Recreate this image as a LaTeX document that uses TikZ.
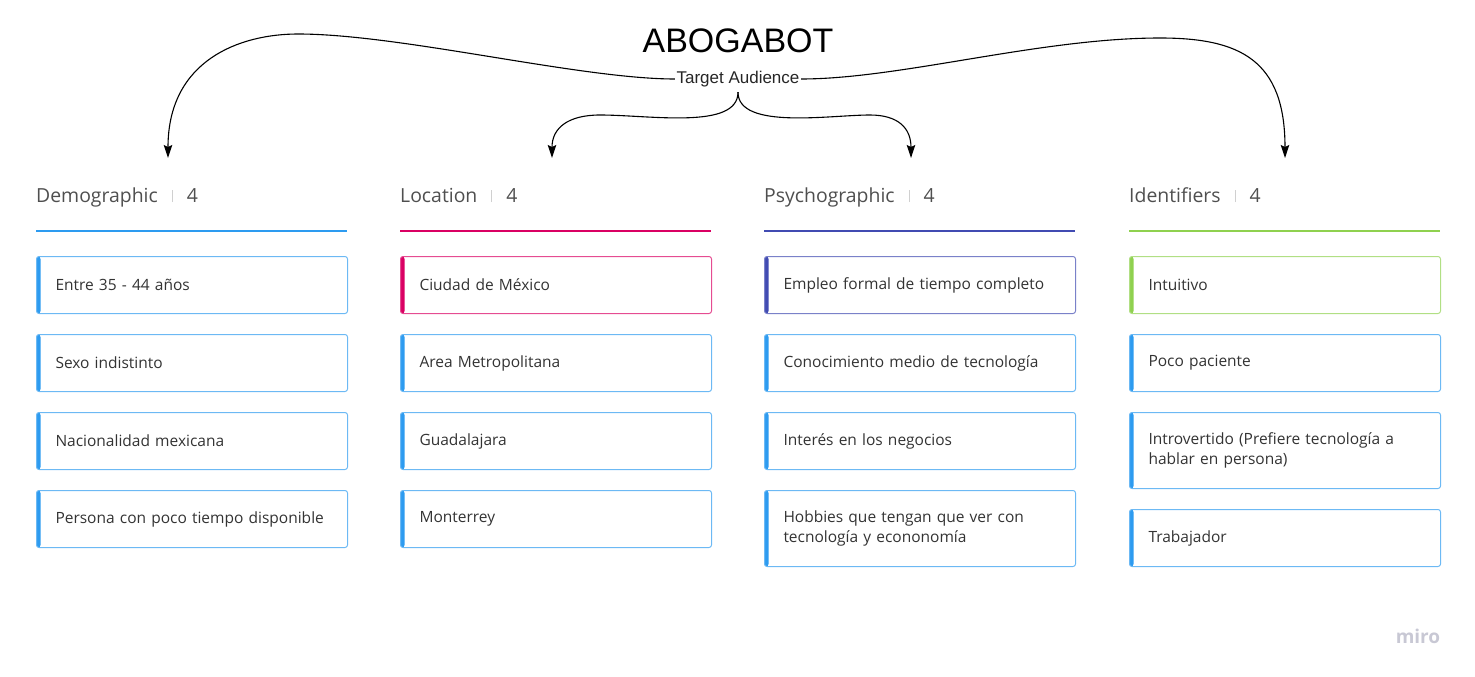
\documentclass[tikz,border=0pt]{standalone}
\usepackage{fontspec}
\setmainfont{Open Sans}
\newfontfamily\arialfont{Liberation Sans}
\usetikzlibrary{arrows.meta}
\usetikzlibrary{positioning}
\definecolor{mblue}{HTML}{2D9BF0}
\definecolor{mpink}{HTML}{DA0063}
\definecolor{mindigo}{HTML}{414BB2}
\definecolor{mgreen}{HTML}{8FD14F}
\definecolor{txtgray}{HTML}{333333}
\definecolor{hdrgray}{HTML}{4F4F4F}
\definecolor{sepgray}{HTML}{D0D0D0}
\definecolor{logogray}{HTML}{C8C8D4}
\tikzset{>={Stealth[length=13pt,width=8.5pt,inset=2pt]},
  card/.style={draw=#1!70, line width=1pt, rounded corners=2.5pt,
    minimum width=311pt, minimum height=57pt, text width=273pt,
    inner xsep=19pt, inner ysep=0pt, align=left, text=txtgray,
    font=\fontsize{15.5}{20}\selectfont,
    path picture={\fill[#1] (path picture bounding box.north west)
      rectangle ([xshift=4pt]path picture bounding box.south west);}},
  card/.default=mblue,
  tall/.style={minimum height=76pt},
  colhead/.style={anchor=base west, inner sep=0pt, text=hdrgray,
    font=\fontsize{19.4}{22}\selectfont},
  link/.style={->, line width=1.1pt}}
\newcommand{\headcount}[1]{#1\hspace{14pt}{\color{sepgray}\rule{1pt}{12.5pt}}\hspace{14pt}4}

\begin{document}
\begin{tikzpicture}[x=1pt, y=-1pt, node distance=20pt]
    \useasboundingbox (0,0) rectangle (1475,677);

    \node (title) at (738,41) {\arialfont\fontsize{34}{40}\selectfont ABOGABOT};
    \node (ta) [minimum height=26pt, inner sep=1.5pt] at (738,79)
      {\arialfont\fontsize{17}{20}\selectfont\color{black!85}Target Audience};

    \coordinate (toDemo) at (168,158);
    \coordinate (toLoc) at (552,158);
    \coordinate (toPsy) at (911,158);
    \coordinate (toIdent) at (1285,158);

    \node[colhead] (demo) at (36,202) {\headcount{Demographic}};
    \node[colhead] (loc) at (400,202) {\headcount{Location}};
    \node[colhead] (psy) at (764,202) {\headcount{Psychographic}};
    \node[colhead] (ident) at (1129,202) {\headcount{Identifiers}};

    \draw[mblue, line width=2pt] (36,231) -- (347,231);
    \draw[mpink, line width=2pt] (400,231) -- (711,231);
    \draw[mindigo, line width=2pt] (764,231) -- (1075,231);
    \draw[mgreen, line width=2pt] (1129,231) -- (1440,231);

    \node[card] (d1) [anchor=north west] at (36,256) {Entre 35 - 44 años};
    \node[card] (d2) [below=of d1] {Sexo indistinto};
    \node[card] (d3) [below=of d2] {Nacionalidad mexicana};
    \node[card] (d4) [below=of d3] {Persona con poco tiempo disponible};

    \node[card=mpink] (l1) [anchor=north west] at (400,256) {Ciudad de México};
    \node[card] (l2) [below=of l1] {Area Metropolitana};
    \node[card] (l3) [below=of l2] {Guadalajara};
    \node[card] (l4) [below=of l3] {Monterrey};

    \node[card=mindigo] (p1) [anchor=north west] at (764,256) {Empleo formal de tiempo completo};
    \node[card] (p2) [below=of p1] {Conocimiento medio de tecnología};
    \node[card] (p3) [below=of p2] {Interés en los negocios};
    \node[card, tall] (p4) [below=of p3] {Hobbies que tengan que ver con\\tecnología y econonomía};

    \node[card=mgreen] (i1) [anchor=north west] at (1129,256) {Intuitivo};
    \node[card] (i2) [below=of i1] {Poco paciente};
    \node[card, tall] (i3) [below=of i2] {Introvertido (Prefiere tecnología a\\hablar en persona)};
    \node[card] (i4) [below=of i3] {Trabajador};

    \draw[link] (ta.west) .. controls (580,79) and (400,34) .. (298,34)
      .. controls (240,34) and (168,60) .. (toDemo);
    \draw[link] (ta.east) .. controls (900,79) and (1040,38) .. (1160,38)
      .. controls (1240,38) and (1285,60) .. (toIdent);
    \draw[link] (ta.south) .. controls (738,130) and (650,115) .. (600,115)
      .. controls (568,115) and (552,128) .. (toLoc);
    \draw[link] (ta.south) .. controls (738,130) and (830,115) .. (870,115)
      .. controls (898,115) and (911,128) .. (toPsy);

    \node (logo) at (1418,636) {\bfseries\fontsize{19}{22}\selectfont\color{logogray}miro};
  \end{tikzpicture}
\end{document}
